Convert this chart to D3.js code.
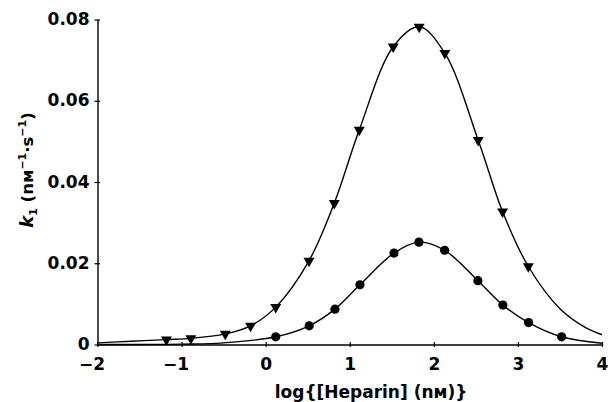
<!DOCTYPE html>
<html>
<head>
<meta charset="utf-8">
<script src="https://cdn.jsdelivr.net/npm/d3@7"></script>
<style>
  html, body { margin: 0; padding: 0; background: #fff; }
  svg { display: block; }
  text { font-family: "DejaVu Sans", "Liberation Sans", sans-serif; fill: #000; }
</style>
</head>
<body>
<svg id="chart" width="608" height="402"></svg>
<script>
// ---- data ----
const xTicks = [-2, -1, 0, 1, 2, 3, 4];
const yTicks = [0, 0.02, 0.04, 0.06, 0.08];
const yTickLabels = ["0", "0.02", "0.04", "0.06", "0.08"];

// triangles (upper series)
const triX = [-1.18, -0.89, -0.48, -0.18, 0.12, 0.515, 0.816, 1.113, 1.517, 1.826, 2.131, 2.528, 2.818, 3.124];
const triY = [0.0012, 0.0015, 0.0026, 0.0046, 0.0092, 0.0206, 0.0348, 0.0528, 0.0733, 0.0782, 0.0717, 0.0503, 0.0327, 0.0192];
// circles (lower series)
const circX = [0.12, 0.518, 0.824, 1.121, 1.526, 1.823, 2.128, 2.524, 2.821, 3.127, 3.52];
const circY = [0.0019, 0.0046, 0.0087, 0.0147, 0.0225, 0.0252, 0.0232, 0.0157, 0.0097, 0.0054, 0.0019];

// extra points of the fitted curves, read where no symbols are drawn
const triFitX = [-2, -1.6, 3.5, 3.8, 4];
const triFitY = [0.0004, 0.0008, 0.0088, 0.0042, 0.0024];
const circFitX = [-2, -1, -0.5, 4];
const circFitY = [0.0000, 0.0001, 0.0004, 0.0003];

// ---- drawing ----
const svg = d3.select("#chart");
const x = d3.scaleLinear().domain([-2, 4]).range([97.5, 602]);
const y = d3.scaleLinear().domain([0, 0.08]).range([344.5, 19.5]);

const fontSize = 17;

// y axis
const yAxis = svg.append("g")
  .attr("transform", `translate(${x(-2)},0)`)
  .call(d3.axisLeft(y).tickValues(yTicks).tickSizeInner(3).tickSizeOuter(0)
        .tickFormat((d, i) => yTickLabels[i]).tickPadding(5));
yAxis.select(".domain").attr("stroke", "#000").attr("stroke-width", 1.4);
yAxis.selectAll(".tick line").attr("x1", 2.5).attr("stroke", "#000").attr("stroke-width", 1.2);
yAxis.selectAll(".tick text")
  .attr("font-family", "DejaVu Sans").attr("font-weight", "bold")
  .attr("font-size", fontSize).attr("fill", "#000")
  .attr("dy", "0.3em");

// x axis
const xAxis = svg.append("g")
  .attr("transform", `translate(0,${y(0)})`)
  .call(d3.axisBottom(x).tickValues(xTicks).tickSizeInner(2.5).tickSizeOuter(0)
        .tickFormat(d3.format("d")).tickPadding(11));
xAxis.select(".domain").attr("stroke", "#000").attr("stroke-width", 1.4);
xAxis.selectAll(".tick line").attr("y1", -2.5).attr("stroke", "#000").attr("stroke-width", 1.2);
xAxis.selectAll(".tick text")
  .attr("font-family", "DejaVu Sans").attr("font-weight", "bold")
  .attr("font-size", fontSize).attr("fill", "#000")
  .attr("dx", d => d < 0 ? -6 : 0);

// fitted curves
function curvePoints(xs, ys, fx, fy) {
  const pts = xs.map((v, i) => [v, ys[i]]).concat(fx.map((v, i) => [v, fy[i]]));
  return pts.sort((a, b) => a[0] - b[0]);
}
const line = d3.line().x(d => x(d[0])).y(d => y(d[1])).curve(d3.curveCatmullRom.alpha(0.5));

svg.append("path")
  .attr("d", line(curvePoints(triX, triY, triFitX, triFitY)))
  .attr("fill", "none").attr("stroke", "#000").attr("stroke-width", 1.4);
svg.append("path")
  .attr("d", line(curvePoints(circX, circY, circFitX, circFitY)))
  .attr("fill", "none").attr("stroke", "#000").attr("stroke-width", 1.4);

// symbols
const tri = d3.symbol().type(d3.symbolTriangle).size(52);
svg.append("g").selectAll("path")
  .data(triX.map((v, i) => [v, triY[i]]))
  .join("path")
  .attr("d", tri)
  .attr("transform", d => `translate(${x(d[0])},${y(d[1])}) rotate(180)`)
  .attr("fill", "#000");

svg.append("g").selectAll("circle")
  .data(circX.map((v, i) => [v, circY[i]]))
  .join("circle")
  .attr("cx", d => x(d[0])).attr("cy", d => y(d[1]))
  .attr("r", 4.6).attr("fill", "#000");

// x label
svg.append("text")
  .attr("x", 371).attr("y", 398)
  .attr("text-anchor", "middle")
  .attr("font-size", fontSize).attr("font-weight", "bold")
  .text("log{[Heparin] (nм)}");

// y label
const yl = svg.append("text")
  .attr("transform", "translate(33,170) rotate(-90)")
  .attr("text-anchor", "middle")
  .attr("font-size", 16.5).attr("font-weight", "bold");
yl.append("tspan").attr("font-style", "italic").attr("font-size", 18).text("k");
yl.append("tspan").attr("font-size", 11).attr("dy", 4).text("1");
yl.append("tspan").attr("dy", -4).text(" (nм");
yl.append("tspan").attr("font-size", 11).attr("dy", -7).text("−1");
yl.append("tspan").attr("dy", 7).text("·s");
yl.append("tspan").attr("font-size", 11).attr("dy", -7).text("−1");
yl.append("tspan").attr("dy", 7).text(")");
</script>
</body>
</html>
